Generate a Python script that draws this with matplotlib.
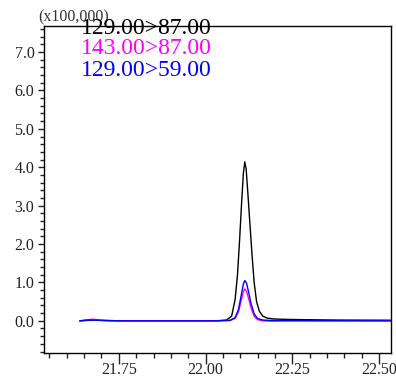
import matplotlib
matplotlib.use("Agg")
import matplotlib.pyplot as plt
from matplotlib.ticker import MultipleLocator, FormatStrFormatter

# retention time (min) and intensity (x100,000)
black_x = [21.638, 21.66, 21.68, 21.70, 21.75, 21.85, 21.95, 22.03, 22.06, 22.075,
           22.085, 22.092, 22.098, 22.104, 22.109, 22.113, 22.117, 22.122, 22.128,
           22.134, 22.140, 22.147, 22.155, 22.165, 22.178, 22.195, 22.22, 22.28,
           22.38, 22.54]
black_y = [0.0, 0.01, 0.02, 0.01, 0.0, 0.0, 0.0, 0.0, 0.02, 0.12, 0.55, 1.2, 2.1,
           3.1, 3.85, 4.14, 3.95, 3.3, 2.5, 1.7, 1.0, 0.5, 0.25, 0.12, 0.07, 0.05,
           0.04, 0.03, 0.02, 0.015]

magenta_x = [21.638, 21.66, 21.675, 21.69, 21.71, 21.75, 21.85, 21.95, 22.03, 22.07,
             22.085, 22.095, 22.103, 22.109, 22.113, 22.118, 22.124, 22.131, 22.140,
             22.150, 22.165, 22.19, 22.25, 22.54]
magenta_y = [0.0, 0.03, 0.04, 0.03, 0.01, 0.0, 0.0, 0.0, 0.0, 0.01, 0.06, 0.24,
             0.54, 0.76, 0.83, 0.77, 0.58, 0.34, 0.12, 0.03, 0.0, -0.01, 0.0, 0.0]

blue_x = [21.638, 21.66, 21.68, 21.70, 21.75, 21.85, 21.95, 22.03, 22.07, 22.085,
          22.095, 22.103, 22.109, 22.113, 22.118, 22.124, 22.131, 22.140, 22.150,
          22.165, 22.19, 22.25, 22.54]
blue_y = [0.0, 0.02, 0.02, 0.01, 0.0, 0.0, 0.0, 0.0, 0.01, 0.08, 0.3, 0.68, 0.96,
          1.05, 0.98, 0.75, 0.45, 0.18, 0.06, 0.02, 0.01, 0.005, 0.0]

series_labels = ["129.00>87.00", "143.00>87.00", "129.00>59.00"]
series_colors = ["#000000", "#ff00ff", "#0000ff"]

plt.rcParams["font.family"] = ["Liberation Serif", "DejaVu Serif"]

fig = plt.figure(figsize=(3.96, 3.76), dpi=100)
ax = fig.add_axes([0.110, 0.062, 0.877, 0.869])

ax.plot(black_x, black_y, color=series_colors[0], lw=1.0)
ax.plot(magenta_x, magenta_y, color=series_colors[1], lw=1.0)
ax.plot(blue_x, blue_y, color=series_colors[2], lw=1.0)

ax.set_xlim(21.533, 22.534)
ax.set_ylim(-0.83, 7.68)

ax.xaxis.set_major_locator(MultipleLocator(0.25))
ax.xaxis.set_minor_locator(MultipleLocator(0.05))
ax.yaxis.set_major_locator(MultipleLocator(1.0))
ax.yaxis.set_minor_locator(MultipleLocator(0.2))
ax.xaxis.set_major_formatter(FormatStrFormatter("%.2f"))
ax.yaxis.set_major_formatter(FormatStrFormatter("%.1f"))

ax.tick_params(axis="both", which="both", direction="out", colors="#222222",
               labelsize=11.5)
ax.tick_params(axis="y", which="major", length=4.6, width=1, pad=2)
ax.tick_params(axis="y", which="minor", length=3.2, width=1)
ax.tick_params(axis="x", which="major", length=8, width=1, pad=-1)
ax.tick_params(axis="x", which="minor", length=3.6, width=1)
for sp in ax.spines.values():
    sp.set_linewidth(1.0)
    sp.set_color("#000000")

fig.text(38 / 396, 1 - 17 / 376, "(x100,000)", fontsize=11.5, color="#333333",
         va="center", ha="left")
for i, (lab, col) in enumerate(zip(series_labels, series_colors)):
    fig.text(81 / 396, 1 - (28 + 21 * i) / 376, lab, fontsize=17, color=col,
             va="center", ha="left")

fig.savefig("out.png", dpi=100)
